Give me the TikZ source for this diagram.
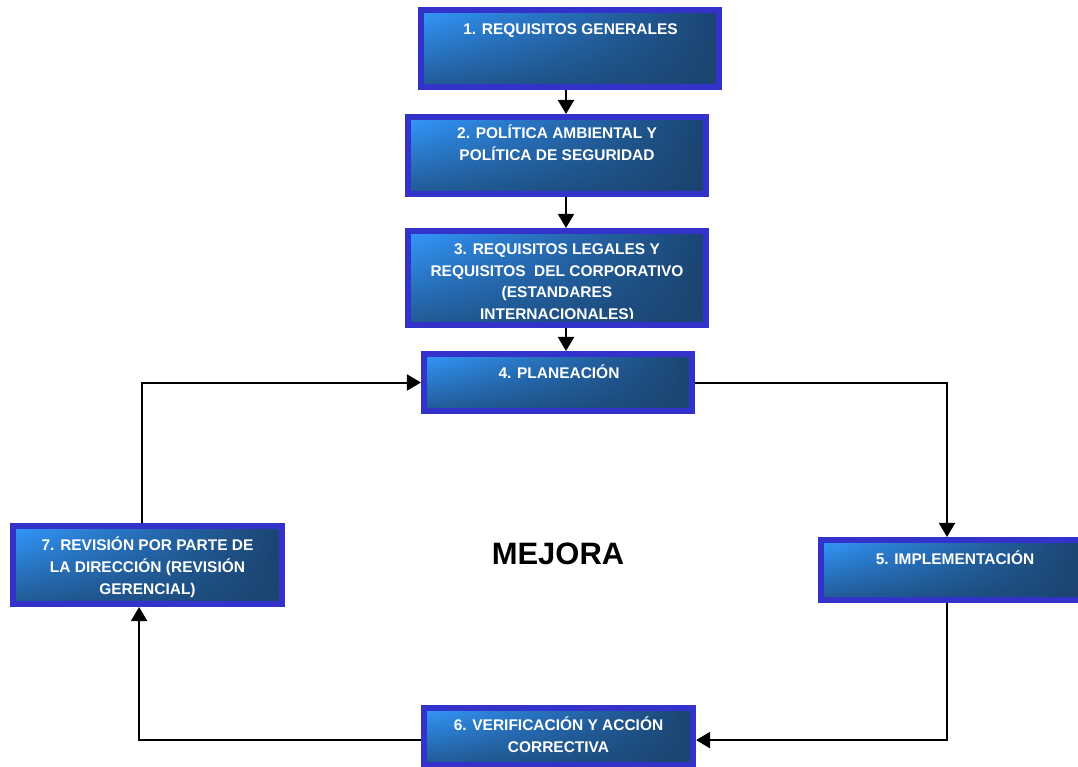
\documentclass[tikz,border=0pt]{standalone}
\usepackage{fontspec}
\setmainfont{Liberation Sans}
\usetikzlibrary{positioning,arrows.meta,fadings}
\definecolor{stageblue}{RGB}{51,153,255}
\definecolor{stagenavy}{RGB}{27,68,112}
\definecolor{stageedge}{RGB}{51,51,204}

\begin{document}
\begin{tikzpicture}[x=0.025cm,y=-0.025cm,
        stage/.style = {draw=stageedge, line width=0.15cm, left color=stageblue, right color=stagenavy, inner sep=0,
            path picture={\fill[stagenavy, path fading=north, fill opacity=0.75] (path picture bounding box.south west) rectangle (path picture bounding box.north east);}},
]
\tikzstyle{stagetext}=[text=white, font=\bfseries\fontsize{11}{15.6}\selectfont, align=center, inner sep=0, anchor=north, execute at begin node={\rule{0pt}{11pt}}]
\tikzstyle{connect}=[-{Triangle[length=0.35cm,width=0.4cm]}, line width=0.05cm]

	\useasboundingbox (0,0) rectangle (1078,767);

	% the chain of requirements
	\node[stage, minimum width=7.45cm, minimum height=1.925cm] (req) at (570,48.5) {};
	\node[stagetext] (reqtext) at (570.5,19) {1. REQUISITOS GENERALES};

	\node[stage, minimum width=7.45cm, minimum height=1.925cm] (pol) at (557,155.5) {};
	\node[stagetext] (poltext) at (557,125) {2. POLÍTICA AMBIENTAL Y\\POLÍTICA DE SEGURIDAD};

	\node[stage, minimum width=7.45cm, minimum height=2.35cm] (leg) at (557,278) {};
	\begin{scope}
		\clip ([shift={(0.15cm,0.25cm)}]leg.south west) rectangle ([shift={(-0.15cm,-0.15cm)}]leg.north east);
		\node[stagetext] (legtext) at (557,243) {3. REQUISITOS LEGALES Y\\REQUISITOS\ \ DEL CORPORATIVO\\(ESTANDARES\\INTERNACIONALES)};
	\end{scope}

	% the cycle
	\node[stage, minimum width=6.7cm, minimum height=1.425cm] (plan) at (558,382.5) {};
	\node[stagetext] (plantext) at (559,363) {4. PLANEACIÓN};

	\node[stage, minimum width=6.5cm, minimum height=1.5cm] (impl) at (951,570) {};
	\node[stagetext] (impltext) at (955,549) {5. IMPLEMENTACIÓN};

	\node[stage, minimum width=6.725cm, minimum height=1.425cm] (veri) at (558.5,736.5) {};
	\node[stagetext] (veritext) at (558.5,717) {6. VERIFICACIÓN Y ACCIÓN\\CORRECTIVA};

	\node[stage, minimum width=6.725cm, minimum height=1.95cm] (rev) at (147.5,565) {};
	\begin{scope}
		\clip ([shift={(0.15cm,0.2cm)}]rev.south west) rectangle ([shift={(-0.15cm,-0.15cm)}]rev.north east);
		\node[stagetext] (revtext) at (147.5,537) {7. REVISIÓN POR PARTE DE\\LA DIRECCIÓN (REVISIÓN\\GERENCIAL)};
	\end{scope}

	\node[font=\bfseries\fontsize{22}{26}\selectfont] (mejora) at (558,554) {MEJORA};

	\draw[connect] ([xshift=-0.1cm]req.south) -- ([xshift=-0.1cm]req.south |- pol.north);
	\draw[connect] ([xshift=0.225cm]pol.south) -- ([xshift=0.225cm]pol.south |- leg.north);
	\draw[connect] ([xshift=0.225cm]leg.south) -- ([xshift=0.225cm]leg.south |- plan.north);

	\draw[connect] (plan.east) -| ([xshift=-0.1cm]impl.north);
	\draw[connect] ([xshift=-0.1cm]impl.south) |- ([yshift=-0.09cm]veri.east);
	\draw[connect] ([yshift=-0.09cm]veri.west) -| ([xshift=-0.21cm]rev.south);
	\draw[connect] ([xshift=-0.14cm]rev.north) |- (plan.west);

\end{tikzpicture}
\end{document}
